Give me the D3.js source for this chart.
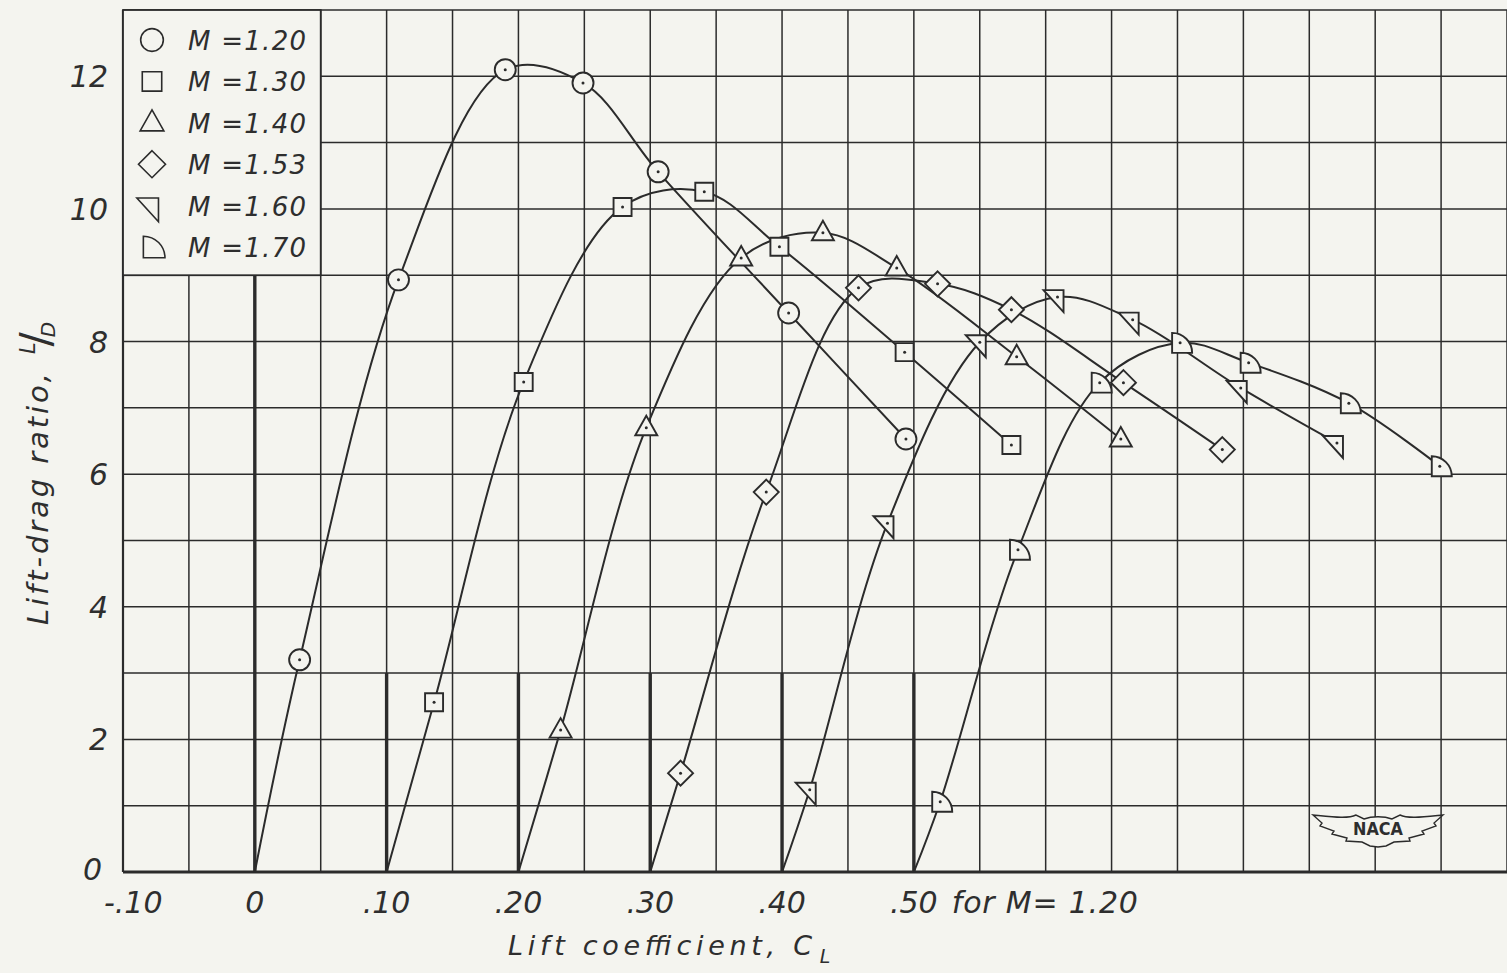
<!DOCTYPE html>
<html>
<head>
<meta charset="utf-8">
<script src="https://cdn.jsdelivr.net/npm/d3@7"></script>
<style>
  html, body { margin: 0; padding: 0; background: #f4f4ef; }
  svg { display: block; }
  text { font-family: "DejaVu Sans", sans-serif; fill: #2e2e2e; }
</style>
</head>
<body>
<svg id="chart" width="1507" height="973"></svg>
<script>
// ---------- data ----------
const machLabels = ["1.20", "1.30", "1.40", "1.53", "1.60", "1.70"];
const clOffsets  = [0.00, 0.10, 0.20, 0.30, 0.40, 0.50];   // curves are staggered by 0.10 in C_L
const symbols    = ["circle", "square", "triangle", "diamond", "flagTri", "quarter"];

// true lift coefficient for each Mach number
const clM120 = [0.034, 0.109, 0.190, 0.249, 0.306, 0.405, 0.494];
const ldM120 = [3.20, 8.93, 12.10, 11.90, 10.56, 8.43, 6.53];
const clM130 = [0.036, 0.104, 0.179, 0.241, 0.298, 0.393, 0.474];
const ldM130 = [2.56, 7.39, 10.03, 10.26, 9.43, 7.84, 6.44];
const clM140 = [0.032, 0.097, 0.169, 0.231, 0.287, 0.378, 0.457];
const ldM140 = [2.14, 6.70, 9.26, 9.64, 9.11, 7.77, 6.53];
const clM153 = [0.023, 0.088, 0.158, 0.218, 0.274, 0.359, 0.434];
const ldM153 = [1.49, 5.73, 8.81, 8.87, 8.48, 7.38, 6.37];
const clM160 = [0.021, 0.080, 0.150, 0.209, 0.266, 0.348, 0.421];
const ldM160 = [1.24, 5.26, 7.99, 8.67, 8.33, 7.30, 6.47];
const clM170 = [0.020, 0.079, 0.141, 0.202, 0.254, 0.330, 0.399];
const ldM170 = [1.06, 4.86, 7.38, 7.98, 7.68, 7.07, 6.12];

const clSeries = [clM120, clM130, clM140, clM153, clM160, clM170];
const ldSeries = [ldM120, ldM130, ldM140, ldM153, ldM160, ldM170];

const xTicks = [-0.10, 0, 0.10, 0.20, 0.30, 0.40, 0.50];
const xTickLabels = ["-.10", "0", ".10", ".20", ".30", ".40", ".50"];
const xNote = "for M= 1.20";
const yTicks = [0, 2, 4, 6, 8, 10, 12];
const yTickLabels = ["0", "2", "4", "6", "8", "10", "12"];

// ---------- layout ----------
const INK = "#2b2b2b";
const BG = "#f4f4ef";
const svg = d3.select("#chart");
svg.append("rect").attr("width", 1507).attr("height", 973).attr("fill", BG);

const x = d3.scaleLinear().domain([-0.10, 0.95]).range([123, 1507]);
const y = d3.scaleLinear().domain([0, 13]).range([872, 10]);

// grid
const vGrid = d3.range(0, 22).map(i => -0.10 + i * 0.05);
const hGrid = d3.range(0, 14);
const grid = svg.append("g").attr("stroke", INK).attr("stroke-width", 1.5);
grid.selectAll("line.v").data(vGrid).join("line")
  .attr("x1", d => x(d)).attr("x2", d => x(d))
  .attr("y1", y(0)).attr("y2", y(13));
grid.selectAll("line.h").data(hGrid).join("line")
  .attr("x1", x(-0.10)).attr("x2", x(0.95))
  .attr("y1", d => y(d)).attr("y2", d => y(d));

// frame: left edge and thick baseline
svg.append("line").attr("x1", x(-0.10)).attr("x2", x(-0.10)).attr("y1", y(0)).attr("y2", y(13))
  .attr("stroke", INK).attr("stroke-width", 2.2);
svg.append("line").attr("x1", x(-0.10)).attr("x2", x(0.95)).attr("y1", y(0)).attr("y2", y(0))
  .attr("stroke", INK).attr("stroke-width", 3.2);

// thick origin lines for each staggered curve
svg.selectAll("line.origin").data(clOffsets).join("line")
  .attr("x1", d => x(d)).attr("x2", d => x(d))
  .attr("y1", y(0)).attr("y2", (d, i) => i === 0 ? y(9) : y(3))
  .attr("stroke", INK).attr("stroke-width", 3.4);

// legend box (covers grid)
svg.append("rect")
  .attr("x", x(-0.10)).attr("y", y(13))
  .attr("width", x(0.05) - x(-0.10)).attr("height", y(9) - y(13))
  .attr("fill", BG).attr("stroke", INK).attr("stroke-width", 1.8);

// ---------- curves ----------
const line = d3.line().x(d => x(d[0])).y(d => y(d[1])).curve(d3.curveCatmullRom.alpha(0.5));
clSeries.forEach((cls, s) => {
  const pts = [[clOffsets[s], 0]].concat(cls.map((c, i) => [c + clOffsets[s], ldSeries[s][i]]));
  svg.append("path").attr("d", line(pts)).attr("fill", "none")
    .attr("stroke", INK).attr("stroke-width", 2);
});

// ---------- markers ----------
function symbolPath(type, k) {
  const p = d3.path();
  if (type === "circle") { p.arc(0, 0, 10.5 * k, 0, 2 * Math.PI); p.closePath(); }
  else if (type === "square") { p.rect(-9 * k, -9 * k, 18 * k, 18 * k); }
  else if (type === "triangle") { p.moveTo(0, -12 * k); p.lineTo(11 * k, 7.5 * k); p.lineTo(-11 * k, 7.5 * k); p.closePath(); }
  else if (type === "diamond") { p.moveTo(0, -12.5 * k); p.lineTo(12.5 * k, 0); p.lineTo(0, 12.5 * k); p.lineTo(-12.5 * k, 0); p.closePath(); }
  else if (type === "flagTri") { p.moveTo(-14 * k, -7 * k); p.lineTo(6 * k, -7 * k); p.lineTo(6 * k, 15 * k); p.closePath(); }
  else if (type === "quarter") {
    p.moveTo(-8 * k, 10 * k); p.lineTo(-8 * k, -10 * k);
    p.arc(-8 * k, 10 * k, 20 * k, -Math.PI / 2, 0);
    p.closePath();
  }
  return p.toString();
}

clSeries.forEach((cls, s) => {
  const g = svg.append("g");
  cls.forEach((c, i) => {
    const m = g.append("g").attr("transform", `translate(${x(c + clOffsets[s])},${y(ldSeries[s][i])})`);
    m.append("path").attr("d", symbolPath(symbols[s], 1))
      .attr("fill", BG).attr("stroke", INK).attr("stroke-width", 1.9);
    m.append("circle").attr("r", 1.5).attr("fill", INK);
  });
});

// ---------- legend ----------
machLabels.forEach((m, i) => {
  const cy = 40 + i * 41.4;
  svg.append("path").attr("transform", `translate(152,${cy})`)
    .attr("d", symbolPath(symbols[i], 1.08))
    .attr("fill", "none").attr("stroke", INK).attr("stroke-width", 1.6);
  svg.append("text").attr("x", 188).attr("y", cy + 10)
    .style("font-style", "italic")
    .attr("font-size", 26).attr("textLength", 118).attr("lengthAdjust", "spacing")
    .text(`M =${m}`);
});

// ---------- axis labels ----------
svg.selectAll("text.xt").data(xTicks).join("text")
  .attr("x", d => d < 0 ? 104 : x(d)).attr("y", 913)
  .attr("text-anchor", d => d < 0 ? "start" : "middle").attr("font-size", 30)
  .style("font-style", "italic")
  .text((d, i) => xTickLabels[i]);
svg.append("text").attr("x", x(0.50) + 38).attr("y", 913)
  .style("font-style", "italic")
  .attr("font-size", 30).attr("textLength", 186).attr("lengthAdjust", "spacing")
  .text(xNote);

svg.selectAll("text.yt").data(yTicks).join("text")
  .attr("x", d => d === 0 ? 102 : 108).attr("y", d => d === 0 ? y(d) + 8 : y(d) + 11)
  .attr("text-anchor", "end").attr("font-size", 30)
  .style("font-style", "italic")
  .text((d, i) => yTickLabels[i]);

// x title
const xt = svg.append("text").attr("x", 508).attr("y", 955).attr("font-size", 27)
  .style("font-style", "italic");
xt.append("tspan").attr("textLength", 304).attr("lengthAdjust", "spacing").text("Lift coefficient, C");
xt.append("tspan").attr("font-size", 19).attr("dx", 3).attr("dy", 8).text("L");

// y title (rotated)
const yt = svg.append("text").attr("transform", "translate(48,625) rotate(-90)").attr("font-size", 29)
  .style("font-style", "italic");
yt.append("tspan").attr("textLength", 252).attr("lengthAdjust", "spacing").text("Lift-drag ratio,");
yt.append("tspan").attr("font-size", 21).attr("dx", 16).attr("dy", -13).text("L");
yt.append("tspan").attr("font-size", 42).attr("dx", -4).attr("dy", 15).style("font-style", "normal").text("/");
yt.append("tspan").attr("font-size", 20).attr("dx", -5).attr("dy", 5).text("D");

// ---------- NACA logo ----------
const logo = svg.append("g").attr("transform", "translate(1378,828)");
logo.append("path")
  .attr("d", "M-65,-13 C-45,-11 -30,-9 -22,-13 L-14,-9 C-6,-12 6,-12 14,-9 L22,-13 C30,-9 45,-11 65,-13 " +
             "L56,-5 L58,-2 L44,3 L46,6 L31,10 L32,13 L16,14 L8,18 L0,19 L-8,18 L-16,14 L-32,13 L-31,10 " +
             "L-46,6 L-44,3 L-58,-2 L-56,-5 Z")
  .attr("fill", BG).attr("stroke", INK).attr("stroke-width", 1.4);
logo.append("text").attr("x", 0).attr("y", 7).attr("text-anchor", "middle")
  .attr("font-size", 17).style("font-style", "normal").attr("font-weight", "bold")
  .attr("textLength", 50).attr("lengthAdjust", "spacingAndGlyphs").text("NACA");
</script>
</body>
</html>
